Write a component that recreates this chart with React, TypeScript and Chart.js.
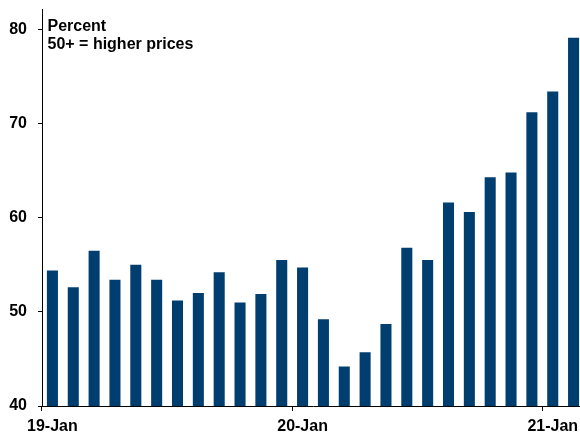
import React, { useEffect, useRef } from "react";
import { Chart, registerables } from "chart.js";

Chart.register(...registerables);

const categories = [
  "19-Jan", "19-Feb", "19-Mar", "19-Apr", "19-May", "19-Jun", "19-Jul", "19-Aug", "19-Sep", "19-Oct", "19-Nov", "19-Dec",
  "20-Jan", "20-Feb", "20-Mar", "20-Apr", "20-May", "20-Jun", "20-Jul", "20-Aug", "20-Sep", "20-Oct", "20-Nov", "20-Dec",
  "21-Jan", "21-Feb",
];
const values = [
  54.4, 52.6, 56.5, 53.4, 55.0, 53.4, 51.2, 52.0, 54.2, 51.0, 51.9, 55.5,
  54.7, 49.2, 44.2, 45.7, 48.7, 56.8, 55.5, 61.6, 60.6, 64.3, 64.8, 71.2,
  73.4, 79.1,
];
const shownXLabels = ["19-Jan", "20-Jan", "21-Jan"];
const yTicks = [40, 50, 60, 70, 80];
const titleLines = ["Percent", "50+ = higher prices"];

const FONT = "'Liberation Sans', Arial, Helvetica, sans-serif";

export default function App() {
  const ref = useRef<HTMLCanvasElement | null>(null);

  useEffect(() => {
    document.body.style.margin = "0";
    const canvas = ref.current;
    if (!canvas) return;

    const titlePlugin = {
      id: "titleText",
      afterDraw(chart: any) {
        const ctx = chart.ctx;
        ctx.save();
        ctx.fillStyle = "#000";
        ctx.font = `bold 16px ${FONT}`;
        ctx.textAlign = "left";
        ctx.textBaseline = "alphabetic";
        const x = chart.chartArea.left + 5.5;
        ctx.fillText(titleLines[0], x, 31);
        ctx.fillText(titleLines[1], x, 48.5);
        ctx.restore();
      },
    };

    const chart = new Chart(canvas, {
      type: "bar",
      data: {
        labels: categories,
        datasets: [
          {
            data: values,
            backgroundColor: "#003e70",
            borderWidth: 0,
            barPercentage: 0.53,
            categoryPercentage: 1,
          },
        ],
      },
      options: {
        animation: false,
        responsive: false,
        devicePixelRatio: 1,
        layout: { padding: { left: 0, top: 9, right: 0, bottom: 0 } },
        plugins: {
          legend: { display: false },
          tooltip: { enabled: false },
          title: { display: false },
        },
        scales: {
          x: {
            offset: true,
            grid: {
              offset: true,
              drawOnChartArea: false,
              drawTicks: true,
              tickLength: 5,
              color: (ctx: any) => (ctx.index % 12 === 0 && ctx.index < categories.length ? "#000" : "rgba(0,0,0,0)"),
            },
            border: { color: "#000", width: 1 },
            ticks: {
              autoSkip: false,
              maxRotation: 0,
              minRotation: 0,
              padding: 6,
              color: "#000",
              font: { family: FONT, size: 16, weight: "bold" },
              callback: (_v: any, idx: number) =>
                shownXLabels.includes(categories[idx]) ? categories[idx] : "",
            },
            afterFit: (scale: any) => {
              scale.height = 26;
              scale.paddingLeft = 0;
              scale.paddingRight = 0;
            },
          },
          y: {
            min: 40,
            max: 82.16,
            grid: {
              drawOnChartArea: false,
              drawTicks: true,
              tickLength: 4,
              color: "#000",
            },
            border: { color: "#000", width: 1 },
            ticks: {
              padding: 11,
              color: "#000",
              font: { family: FONT, size: 16, weight: "bold" },
            },
            afterBuildTicks: (scale: any) => {
              scale.ticks = yTicks.map((v) => ({ value: v }));
            },
            afterFit: (scale: any) => {
              scale.width = 42;
              scale.paddingTop = 0;
              scale.paddingBottom = 0;
            },
          },
        },
      },
      plugins: [titlePlugin],
    });

    return () => chart.destroy();
  }, []);

  return (
    <div style={{ width: 580, height: 432, overflow: "hidden", position: "relative", background: "#fff" }}>
      <canvas ref={ref} width={584} height={432} style={{ display: "block" }} />
    </div>
  );
}
